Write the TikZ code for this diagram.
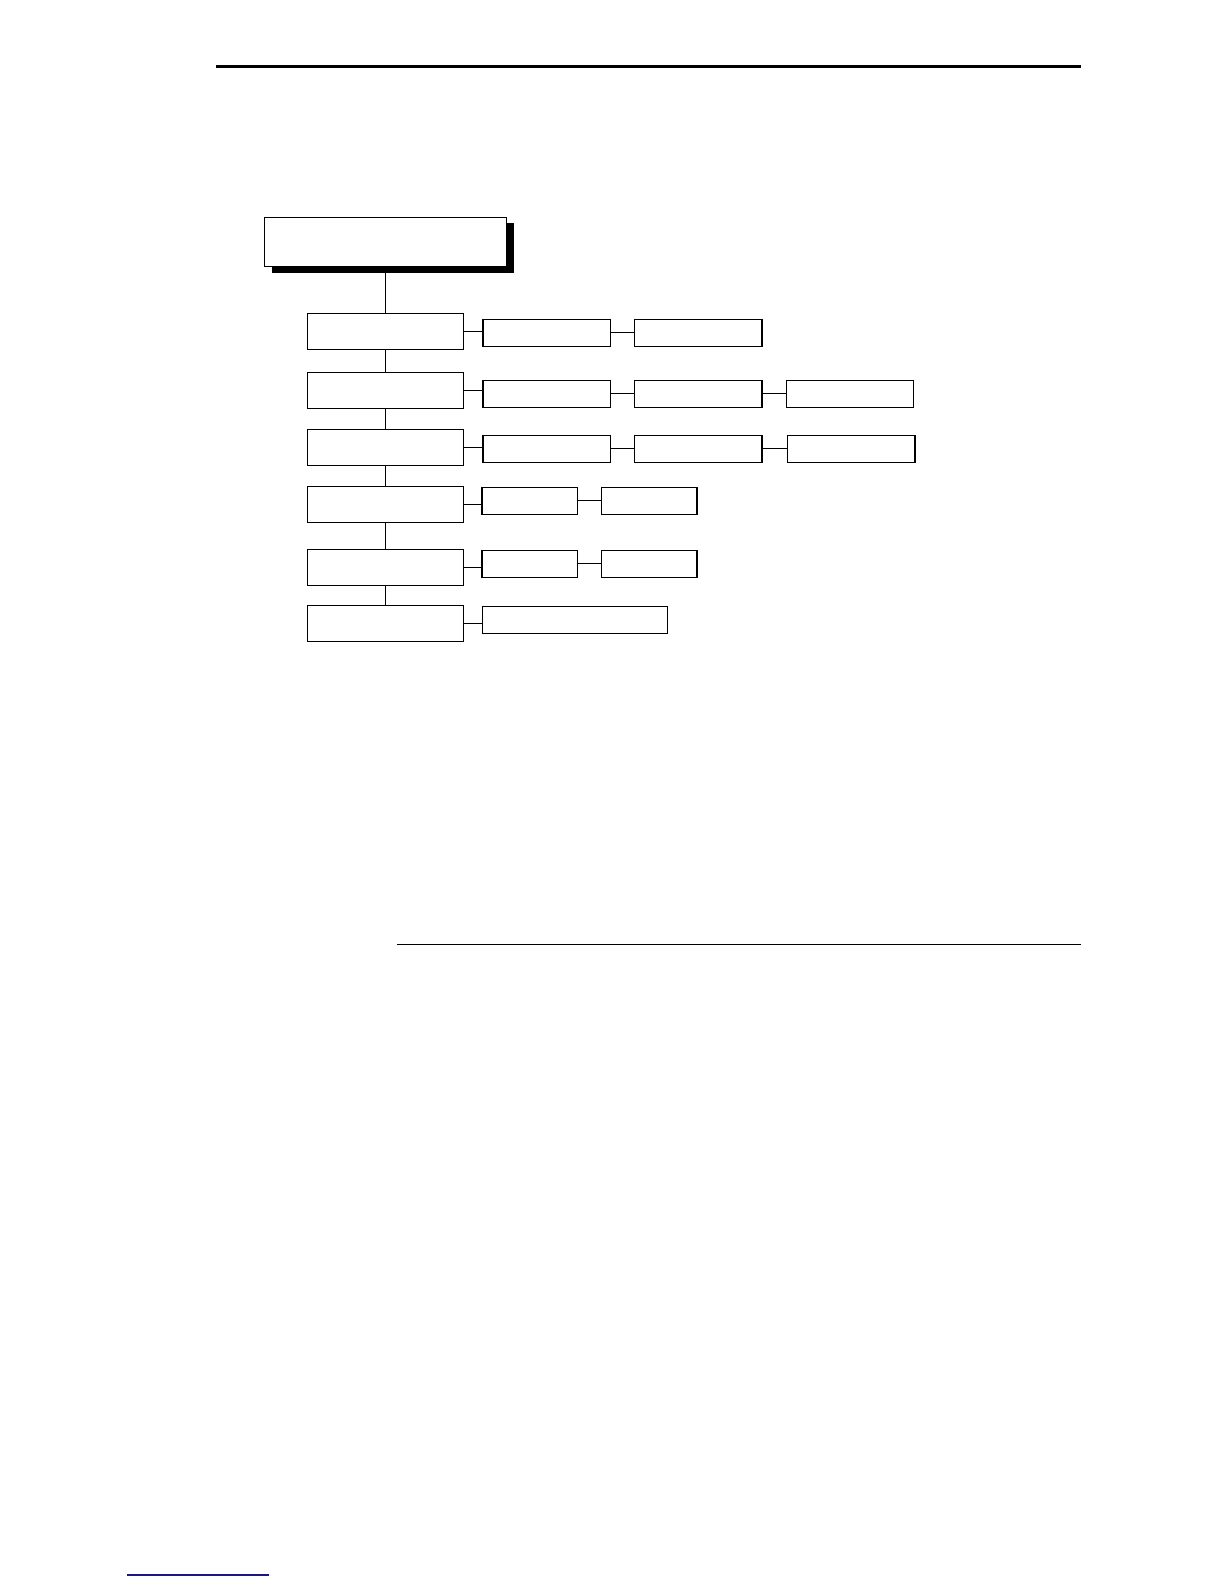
\documentclass[tikz,border=0pt]{standalone}
\usepackage{tikz}
\usetikzlibrary{positioning,shadows}
\usepackage{xcolor}
\definecolor{linkblue}{RGB}{24,24,130}

\begin{document}
\begin{tikzpicture}[x=1pt, y=-1pt,
    menu/.style={draw, line width=1.2pt, fill=white, inner sep=0pt},
    root/.style={menu, minimum width=242.6pt, minimum height=49.4pt,
      drop shadow={shadow xshift=7.3pt, shadow yshift=-6pt, fill=black, opacity=1}},
    level/.style={menu, minimum width=156pt, minimum height=36pt},
    opt/.style={menu, minimum width=127.5pt, minimum height=27pt},
    optshort/.style={menu, minimum width=95.5pt, minimum height=27pt},
    link/.style={line width=1.2pt}]
  \useasboundingbox (0,0) rectangle (1224,1584);

  % page rules
  \draw[line width=2.5pt] (216,66.7) -- (1080.7,66.7);
  \draw[line width=1.2pt] (397.3,944.3) -- (1080.7,944.3);
  \draw[line width=1.2pt, linkblue] (127.3,1575) -- (269,1575);

  % --- root menu ---
  \node[root] (top) at (385.5,242) {};

  % --- level entries ---
  \node[level] (l1) at (385.5,331.3) {};
  \node[level] (l2) at (385.5,390.2) {};
  \node[level] (l3) at (385.5,447.3) {};
  \node[level] (l4) at (385.5,504.2) {};
  \node[level] (l5) at (385.5,567.3) {};
  \node[level] (l6) at (385.5,623.3) {};

  % trunk
  \draw[link] (top) -- (l1);
  \draw[link] (l1) -- (l2);
  \draw[link] (l2) -- (l3);
  \draw[link] (l3) -- (l4);
  \draw[link] (l4) -- (l5);
  \draw[link] (l5) -- (l6);

  % --- row 1 ---
  \node[opt] (c11) at (546.8,332.8) {};
  \node[opt] (c12) at (698.3,332.8) {};
  \draw[link] (l1.east) -- (l1.east -| c11.west);
  \draw[link] (c11) -- (c12);

  % --- row 2 ---
  \node[opt] (c21) at (546.8,393.8) {};
  \node[opt] (c22) at (698.3,393.8) {};
  \node[opt] (c23) at (850,393.8) {};
  \draw[link] (l2.east) -- (l2.east -| c21.west);
  \draw[link] (c21) -- (c22);
  \draw[link] (c22) -- (c23);

  % --- row 3 ---
  \node[opt] (c31) at (546.8,448.8) {};
  \node[opt] (c32) at (698.3,448.8) {};
  \node[opt] (c33) at (851.3,448.8) {};
  \draw[link] (l3.east) -- (l3.east -| c31.west);
  \draw[link] (c31) -- (c32);
  \draw[link] (c32) -- (c33);

  % --- row 4 ---
  \node[optshort] (c41) at (529.8,500.8) {};
  \node[optshort] (c42) at (649.3,500.8) {};
  \draw[link] (l4.east) -- (l4.east -| c41.west);
  \draw[link] (c41) -- (c42);

  % --- row 5 ---
  \node[optshort] (c51) at (529.8,563.8) {};
  \node[optshort] (c52) at (649.3,563.8) {};
  \draw[link] (l5.east) -- (l5.east -| c51.west);
  \draw[link] (c51) -- (c52);

  % --- row 6 ---
  \node[menu, minimum width=185pt, minimum height=27pt] (c61) at (574.8,619.8) {};
  \draw[link] (l6.east) -- (l6.east -| c61.west);

\end{tikzpicture}
\end{document}
